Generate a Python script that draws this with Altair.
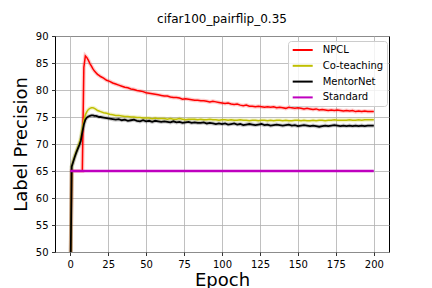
import altair as alt
import pandas as pd

EPOCHS = list(range(0, 21)) + list(range(22, 201, 2))

NPCL = [40, 65, 65, 65, 65, 65, 65, 65, 65, 84.2, 86.3, 86.0, 85.5, 84.9, 84.4, 83.9, 83.5, 83.2, 82.9, 82.7, 82.5,
        82.2, 81.8, 81.6, 81.3, 81.1, 80.9, 80.7, 80.5, 80.4, 80.2,
        80.1, 79.9, 79.8, 79.7, 79.5, 79.4, 79.3, 79.2, 79.1, 79.0,
        78.9, 78.9, 78.7, 78.6, 78.6, 78.5, 78.3, 78.4, 78.3, 78.2,
        78.1, 78.1, 78.0, 78.0, 77.9, 77.8, 77.9, 77.8, 77.7, 77.6,
        77.5, 77.6, 77.4, 77.3, 77.4, 77.2, 77.1, 77.2, 77.0, 77.0,
        76.9, 77.0, 76.9, 76.8, 76.9, 76.8, 76.9, 76.7, 76.8, 76.7,
        76.6, 76.8, 76.7, 76.6, 76.7, 76.6, 76.5, 76.6, 76.5, 76.4,
        76.5, 76.3, 76.4, 76.3, 76.2, 76.3, 76.2, 76.3, 76.2, 76.1,
        76.2, 76.1, 76.2, 76.0, 76.1, 76.0, 76.1, 76.0, 76.0, 76.0]

COTEACHING = [40, 65.9, 66.9, 67.8, 68.6, 69.4, 70.2, 71.2, 72.9, 74.4, 75.4, 76.0, 76.4, 76.6, 76.7, 76.7, 76.6, 76.4, 76.2, 76.1, 76.0,
              75.8, 75.7, 75.5, 75.4, 75.3, 75.3, 75.2, 75.1, 75.1, 75.0,
              75.0, 74.9, 74.9, 74.8, 74.8, 74.8, 74.7, 74.8, 74.7, 74.7,
              74.7, 74.6, 74.7, 74.6, 74.6, 74.7, 74.6, 74.5, 74.6, 74.6,
              74.6, 74.5, 74.6, 74.5, 74.5, 74.6, 74.5, 74.5, 74.4, 74.5,
              74.5, 74.4, 74.5, 74.4, 74.4, 74.5, 74.4, 74.4, 74.3, 74.4,
              74.4, 74.3, 74.4, 74.4, 74.3, 74.4, 74.3, 74.4, 74.4, 74.3,
              74.4, 74.3, 74.3, 74.4, 74.4, 74.3, 74.4, 74.3, 74.3, 74.4,
              74.3, 74.4, 74.4, 74.3, 74.4, 74.4, 74.5, 74.4, 74.4, 74.4,
              74.4, 74.5, 74.4, 74.4, 74.5, 74.4, 74.5, 74.5, 74.5, 74.5]

MENTORNET = [40, 65.8, 66.7, 67.6, 68.4, 69.1, 69.8, 70.6, 72.2, 73.6, 74.5, 74.9, 75.1, 75.2, 75.3, 75.3, 75.2, 75.2, 75.1, 75.0, 75.0,
             74.9, 74.8, 74.7, 74.6, 74.5, 74.6, 74.4, 74.5, 74.3, 74.4,
             74.5, 74.3, 74.2, 74.4, 74.2, 74.3, 74.1, 74.3, 74.2, 74.1,
             74.2, 74.1, 74.0, 74.2, 74.0, 74.1, 73.9, 74.0, 74.1, 73.9,
             74.0, 73.9, 73.9, 74.0, 73.8, 73.9, 73.8, 73.7, 73.8, 73.7,
             73.8, 73.6, 73.7, 73.8, 73.6, 73.7, 73.5, 73.6, 73.7, 73.6,
             73.5, 73.6, 73.7, 73.5, 73.6, 73.4, 73.5, 73.6, 73.5, 73.4,
             73.5, 73.6, 73.4, 73.5, 73.3, 73.4, 73.5, 73.4, 73.3, 73.4,
             73.3, 73.2, 73.3, 73.4, 73.3, 73.4, 73.5, 73.4, 73.3, 73.4,
             73.3, 73.4, 73.3, 73.4, 73.3, 73.4, 73.3, 73.4, 73.4, 73.4]

STANDARD_EPOCHS = [0, 200]
STANDARD = [65, 65]

NAMES = ["NPCL", "Co-teaching", "MentorNet", "Standard"]
COLORS = ["#ff0000", "#bfbf00", "#000000", "#bf00bf"]
WIDTHS = [1.5, 1.5, 1.8, 2.5]

frames = []
for name, vals in [("NPCL", NPCL), ("Co-teaching", COTEACHING), ("MentorNet", MENTORNET)]:
    frames.append(pd.DataFrame({"epoch": EPOCHS, "value": vals, "series": name}))
frames.append(pd.DataFrame({"epoch": STANDARD_EPOCHS, "value": STANDARD, "series": "Standard"}))
df = pd.concat(frames, ignore_index=True)

x = alt.X("epoch:Q", title="Epoch",
          scale=alt.Scale(domain=[-10, 210], nice=False, zero=False),
          axis=alt.Axis(values=[0, 25, 50, 75, 100, 125, 150, 175, 200], titlePadding=2))
y = alt.Y("value:Q", title="Label Precision",
          scale=alt.Scale(domain=[50, 90], nice=False, zero=False),
          axis=alt.Axis(values=[50, 55, 60, 65, 70, 75, 80, 85, 90], titlePadding=5))
color = alt.Color("series:N", scale=alt.Scale(domain=NAMES, range=COLORS),
                  sort=NAMES,
                  legend=alt.Legend(title=None, orient="none", legendX=233, legendY=5,
                                    symbolType="M-2,0H2", symbolSize=100, symbolStrokeWidth=2,
                                    symbolOffset=5.7, labelOffset=14,
                                    labelFontSize=10, padding=3, fillColor="rgba(255,255,255,0.8)",
                                    strokeColor="#cccccc", cornerRadius=3, rowPadding=4.8))

base = alt.Chart(df)
layers = []
# faint bands
for name, col in [("NPCL", "#ff0000"), ("Co-teaching", "#bfbf00"), ("MentorNet", "#000000")]:
    layers.append(base.transform_filter(alt.datum.series == name)
                  .mark_line(clip=True, strokeWidth=4, opacity=0.2)
                  .encode(x=x, y=y, color=alt.value(col)))
for name, w in zip(NAMES, WIDTHS):
    layers.append(base.transform_filter(alt.datum.series == name)
                  .mark_line(clip=True, strokeWidth=w)
                  .encode(x=x, y=y, color=color))

chart = alt.layer(*layers).properties(
    width=334, height=216,
    padding={"left": 47, "top": 28, "right": 35, "bottom": 36},
    autosize=alt.AutoSizeParams(type="none"),
    title=alt.TitleParams("cifar100_pairflip_0.35", fontSize=12, fontWeight="normal",
                          font="DejaVu Sans", offset=5, color="black"),
).configure_view(stroke="black", strokeWidth=1).configure_axis(
    labelFont="DejaVu Sans", titleFont="DejaVu Sans", labelFontSize=10, titleFontSize=18,
    titleFontWeight="normal", labelColor="black", titleColor="black",
    tickColor="black", tickSize=3.5, tickWidth=0.8, labelPadding=3.5,
    domain=False, gridColor="#b0b0b0", gridWidth=0.8,
).configure_legend(labelFont="DejaVu Sans", labelColor="black")

chart.save("out.html", embed_options={"renderer": "svg", "actions": False})
